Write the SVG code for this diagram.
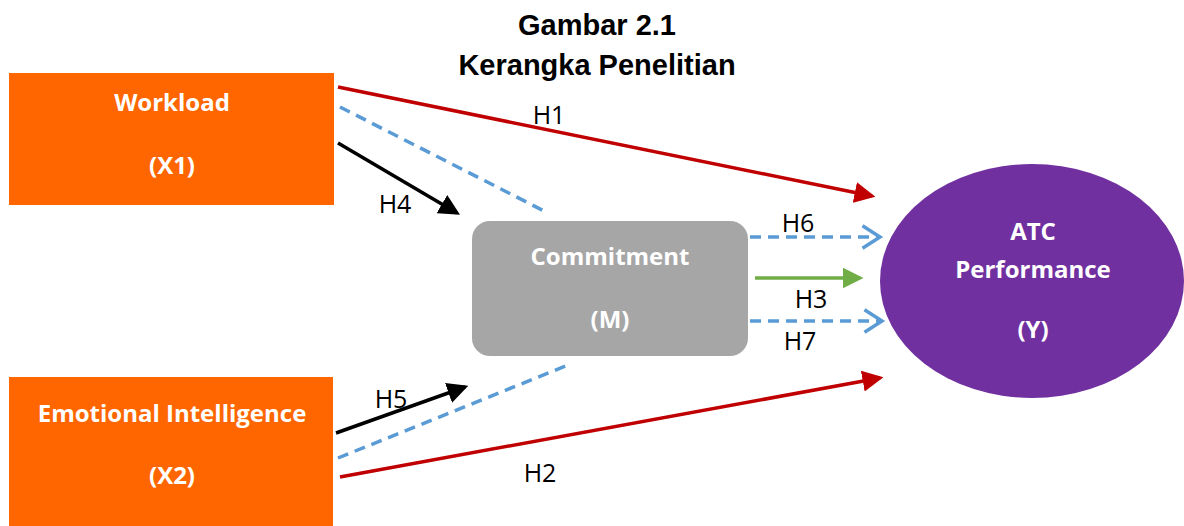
<svg xmlns="http://www.w3.org/2000/svg" width="1184" height="526" viewBox="0 0 1184 526">
<style>
.title{font-family:"Liberation Sans",Arial,sans-serif;font-weight:bold;font-size:29px;fill:#000;text-anchor:middle}
.nt{font-family:"Open Sans","Noto Sans",sans-serif;font-weight:bold;font-size:24px;fill:#fff;text-anchor:middle}
.lb{font-family:"Open Sans","Noto Sans",sans-serif;font-size:25px;fill:#000;text-anchor:middle}
.red{stroke:#C00000;stroke-width:3.5;fill:none}
.blk{stroke:#000;stroke-width:3.5;fill:none}
.blu{stroke:#5B9BD5;stroke-width:3.5;fill:none;stroke-dasharray:11 7}
.grn{stroke:#70AD47;stroke-width:3.5;fill:none}
</style>
<defs>
<marker id="ar" markerWidth="6" markerHeight="6" refX="5" refY="3" orient="auto" markerUnits="strokeWidth"><path d="M0,0 L6,3 L0,6 z" fill="#C00000"/></marker>
<marker id="ak" markerWidth="6" markerHeight="6" refX="5" refY="3" orient="auto" markerUnits="strokeWidth"><path d="M0,0 L6,3 L0,6 z" fill="#000"/></marker>
<marker id="ag" markerWidth="6" markerHeight="6" refX="5" refY="3" orient="auto" markerUnits="strokeWidth"><path d="M0,0 L6,3 L0,6 z" fill="#70AD47"/></marker>
<marker id="ab" markerWidth="8" markerHeight="8" refX="6" refY="4" orient="auto" markerUnits="strokeWidth"><path d="M1,0.8 L6,4 L1,7.2" fill="none" stroke="#5B9BD5" stroke-width="1"/></marker>
</defs>
<text class="title" x="597" y="35">Gambar 2.1</text>
<text class="title" x="597" y="75">Kerangka Penelitian</text>
<g id="workload"><rect x="9" y="73" width="325" height="132" fill="#FF6600"/><text class="nt" x="172" y="111">Workload</text><text class="nt" x="172" y="174">(X1)</text></g>
<g id="emotional"><rect x="9" y="377" width="324" height="149" fill="#FF6600"/><text class="nt" x="172" y="422">Emotional Intelligence</text><text class="nt" x="172" y="484">(X2)</text></g>
<g id="commitment"><rect x="472" y="221" width="276" height="135" rx="18" fill="#A6A6A6"/><text class="nt" x="610" y="265">Commitment</text><text class="nt" x="610" y="328">(M)</text></g>
<g id="atc"><ellipse cx="1032" cy="281" rx="152" ry="117" fill="#7030A0"/><text class="nt" x="1033" y="240">ATC</text><text class="nt" x="1033" y="278">Performance</text><text class="nt" x="1033" y="338">(Y)</text></g>
<g id="connectors">
<line class="red" x1="338" y1="87" x2="872" y2="196" marker-end="url(#ar)"/>
<line class="blu" x1="340" y1="107" x2="548" y2="213"/>
<line class="blk" x1="338" y1="143" x2="457" y2="213" marker-end="url(#ak)"/>
<line class="blu" x1="750" y1="237" x2="880" y2="237" marker-end="url(#ab)"/>
<line class="grn" x1="755" y1="278" x2="860" y2="278" marker-end="url(#ag)"/>
<line class="blu" x1="750" y1="321" x2="882" y2="321" marker-end="url(#ab)"/>
<line class="blk" x1="336" y1="433" x2="465" y2="387" marker-end="url(#ak)"/>
<line class="blu" x1="338" y1="458" x2="568" y2="365"/>
<line class="red" x1="340" y1="477" x2="880" y2="378" marker-end="url(#ar)"/>
</g>
<g id="labels">
<text class="lb" x="549" y="124">H1</text>
<text class="lb" x="395" y="213">H4</text>
<text class="lb" x="798" y="232">H6</text>
<text class="lb" x="811" y="308">H3</text>
<text class="lb" x="800" y="350">H7</text>
<text class="lb" x="391" y="408">H5</text>
<text class="lb" x="540" y="482">H2</text>
</g>
</svg>
